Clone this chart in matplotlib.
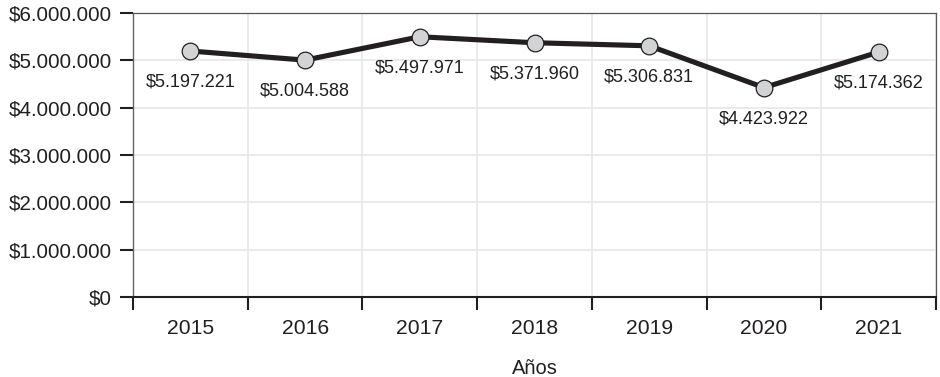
import matplotlib
matplotlib.use("Agg")
import matplotlib.pyplot as plt
from matplotlib.ticker import FuncFormatter, FixedLocator

# datos
anios = ["2015", "2016", "2017", "2018", "2019", "2020", "2021"]
valores = [5197221, 5004588, 5497971, 5371960, 5306831, 4423922, 5174362]
yticks = [0, 1000000, 2000000, 3000000, 4000000, 5000000, 6000000]

plt.rcParams["font.family"] = ["Liberation Sans", "DejaVu Sans"]


def pesos(v, pos=None):
    return "$" + f"{int(v):,}".replace(",", ".")


fig = plt.figure(figsize=(9.4, 3.77), dpi=100)
ax = fig.add_axes([0.1415, 0.2122, 0.8543, 0.7533])

x = list(range(len(anios)))
ax.plot(x, valores, color="#231f20", linewidth=3.7, marker="o", markersize=12,
        markerfacecolor="#d2d3d5", markeredgecolor="#231f20", markeredgewidth=0.9,
        zorder=3)

for xi, v in zip(x, valores):
    ax.annotate(pesos(v), (xi, v), xytext=(0, -31), textcoords="offset pixels",
                ha="center", va="center", fontsize=13, color="#231f20")

ax.set_xlim(-0.5, len(anios) - 0.5)
ax.set_ylim(0, 6000000)

# ticks en los bordes de cada banda, etiquetas en el centro
ax.xaxis.set_major_locator(FixedLocator([i - 0.5 for i in range(len(anios) + 1)]))
ax.xaxis.set_minor_locator(FixedLocator(x))
ax.set_xticklabels([])
ax.set_xticklabels(anios, minor=True)
ax.tick_params(axis="x", which="major", length=9.5, width=1.5, color="#231f20")
ax.tick_params(axis="x", which="minor", length=0, pad=16, labelsize=15.2,
               labelcolor="#231f20")

ax.set_yticks(yticks)
ax.yaxis.set_major_formatter(FuncFormatter(pesos))
ax.tick_params(axis="y", length=9.5, width=1.5, color="#231f20", pad=5.5,
               labelsize=14.8, labelcolor="#231f20")

ax.grid(True, which="major", color="#e8e8e8", linewidth=1.2, zorder=0)
ax.set_axisbelow(True)

for s in ["top", "right"]:
    ax.spines[s].set_color("#555555")
    ax.spines[s].set_linewidth(0.9)
ax.spines["left"].set_color("#666666")
ax.spines["left"].set_linewidth(1.0)
ax.spines["bottom"].set_color("#231f20")
ax.spines["bottom"].set_linewidth(1.5)

ax.set_xlabel("Años", fontsize=14.5, color="#231f20", labelpad=15)

fig.savefig("out.png", dpi=100)
